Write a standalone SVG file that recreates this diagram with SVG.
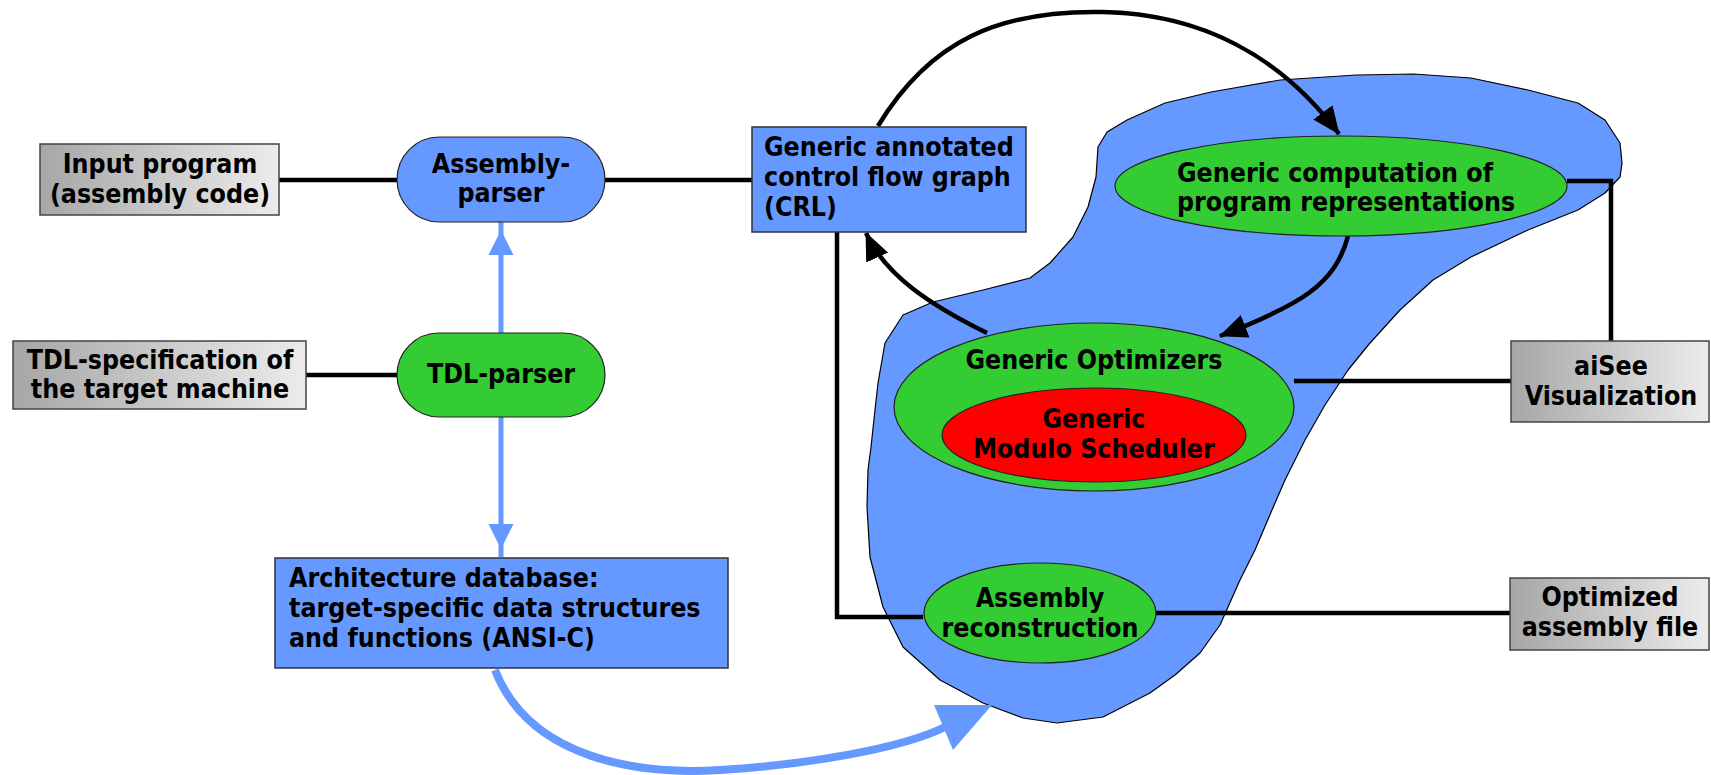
<svg xmlns="http://www.w3.org/2000/svg" width="1711" height="775" viewBox="0 0 1711 775">
<defs>
<linearGradient id="gray" x1="0" y1="0" x2="1" y2="0">
<stop offset="0" stop-color="#a6a6a6"/>
<stop offset="1" stop-color="#ececec"/>
</linearGradient>
<marker id="ah" markerUnits="userSpaceOnUse" markerWidth="28" markerHeight="24" refX="27" refY="12" orient="auto" viewBox="0 0 28 24">
<path d="M0,0 L28,12 L0,24 z" fill="#000"/>
</marker>
<style>
text{font-family:"DejaVu Sans Condensed","DejaVu Sans",sans-serif;font-stretch:condensed;font-weight:bold;font-size:26.5px;fill:#000}
.c{text-anchor:middle}
.gbox{fill:url(#gray);stroke:#444;stroke-width:1.5}
.bbox{fill:#6699ff;stroke:#333;stroke-width:1.5}
.blue{fill:#6699ff;stroke:#222;stroke-width:1.2}
.green{fill:#33cc33;stroke:#222;stroke-width:1.2}
.red{fill:#ff0000;stroke:#222;stroke-width:1.2}
.ln{fill:none;stroke:#000;stroke-width:4.5}
.cv{fill:none;stroke:#000;stroke-width:4.5;marker-end:url(#ah)}
.bl{fill:none;stroke:#6699ff;stroke-width:5}
</style>
</defs>
<rect width="1711" height="775" fill="#fff"/>

<g id="blob">
<path d="M1098,147 L1107,132 L1127,120 L1165,103 L1211,92 L1280,80 L1356,75 L1414,74 L1471,78 L1528,90 L1578,103 L1605,120 L1620,143 L1622,163 L1620,177 L1605,193 L1578,210 L1528,230 L1471,257 L1433,280 L1400,310 L1370,343 L1348,370 L1325,405 L1305,440 L1285,480 L1272,510 L1255,550 L1240,580 L1220,625 L1200,653 L1175,675 L1150,693 L1103,717 L1057,723 L1023,718 L983,703 L940,680 L903,647 L883,607 L870,557 L867,507 L868,470 L871,447 L875,410 L878,383 L885,343 L903,315 L933,302 L983,290 L1030,278 L1050,263 L1073,237 L1088,207 L1096,177 Z" fill="#6699ff" stroke="#000" stroke-width="1.2" stroke-linejoin="round"/>
</g>

<g id="connectors">
<line class="ln" x1="279" y1="180" x2="397" y2="180"/>
<line class="ln" x1="605" y1="180" x2="752" y2="180"/>
<line class="ln" x1="306" y1="375" x2="397" y2="375"/>
<polyline class="ln" points="837,232 837,617 923,617"/>
<polyline class="ln" stroke-width="3.5" points="1567,181 1611,181 1611,341"/>
<line class="ln" x1="1294" y1="381" x2="1511" y2="381"/>
<line class="ln" stroke-width="2.5" x1="1156" y1="613" x2="1510" y2="613"/>
<line class="bl" x1="501" y1="333" x2="501" y2="222"/>
<polygon points="501,230 488.5,255 513.5,255" fill="#6699ff"/>
<line class="bl" x1="501" y1="417" x2="501" y2="557"/>
<polygon points="501,549 488.5,524 513.5,524" fill="#6699ff"/>
<path d="M878,126 C930,40 1000,10 1103,12 C1200,14 1280,55 1339,134" class="cv"/>
<path d="M1348,236 C1335,285 1300,305 1220,336" class="cv"/>
<path d="M987,333 C930,305 885,275 866,233" class="cv"/>
<path d="M495,670 C530,760 640,775 720,770 C800,765 900,750 947,726" fill="none" stroke="#6699ff" stroke-width="8"/>
<polygon points="992,705 934,705 953,750" fill="#6699ff"/>
</g>

<g id="input-program">
<rect class="gbox" x="40" y="144" width="239" height="71"/>
<text class="c" x="160" y="173">Input program</text>
<text class="c" x="160" y="203">(assembly code)</text>
</g>

<g id="assembly-parser">
<rect class="blue" x="397" y="137" width="208" height="85" rx="42.5"/>
<text class="c" x="501" y="173">Assembly-</text>
<text class="c" x="501" y="202">parser</text>
</g>

<g id="tdl-spec">
<rect class="gbox" x="13" y="341" width="293" height="68"/>
<text class="c" x="160" y="369">TDL-specification of</text>
<text class="c" x="160" y="398">the target machine</text>
</g>

<g id="tdl-parser">
<rect class="green" x="397" y="333" width="208" height="84" rx="42"/>
<text class="c" x="501" y="383">TDL-parser</text>
</g>

<g id="arch-db">
<rect class="bbox" x="275" y="558" width="453" height="110"/>
<text x="289" y="587">Architecture database:</text>
<text x="289" y="617">target-specific data structures</text>
<text x="289" y="647">and functions (ANSI-C)</text>
</g>

<g id="cfg">
<rect class="bbox" x="752" y="127" width="274" height="105"/>
<text x="764" y="156">Generic annotated</text>
<text x="764" y="186">control flow graph</text>
<text x="764" y="216">(CRL)</text>
</g>

<g id="computation">
<ellipse class="green" cx="1341" cy="186" rx="226" ry="50"/>
<text x="1177" y="182">Generic computation of</text>
<text x="1177" y="211">program representations</text>
</g>

<g id="optimizers">
<ellipse class="green" cx="1094" cy="407" rx="200" ry="84"/>
<text class="c" x="1094" y="369">Generic Optimizers</text>
</g>

<g id="modulo-scheduler">
<ellipse class="red" cx="1094" cy="435" rx="152" ry="47"/>
<text class="c" x="1094" y="428">Generic</text>
<text class="c" x="1094" y="458">Modulo Scheduler</text>
</g>

<g id="asm-reconstruction">
<ellipse class="green" cx="1040" cy="613" rx="116" ry="50"/>
<text class="c" x="1040" y="607">Assembly</text>
<text class="c" x="1040" y="637">reconstruction</text>
</g>

<g id="aisee">
<rect class="gbox" x="1511" y="341" width="198" height="81"/>
<text class="c" x="1611" y="375">aiSee</text>
<text class="c" x="1611" y="405">Visualization</text>
</g>

<g id="optimized-file">
<rect class="gbox" x="1510" y="578" width="199" height="72"/>
<text class="c" x="1610" y="606">Optimized</text>
<text class="c" x="1610" y="636">assembly file</text>
</g>
</svg>
